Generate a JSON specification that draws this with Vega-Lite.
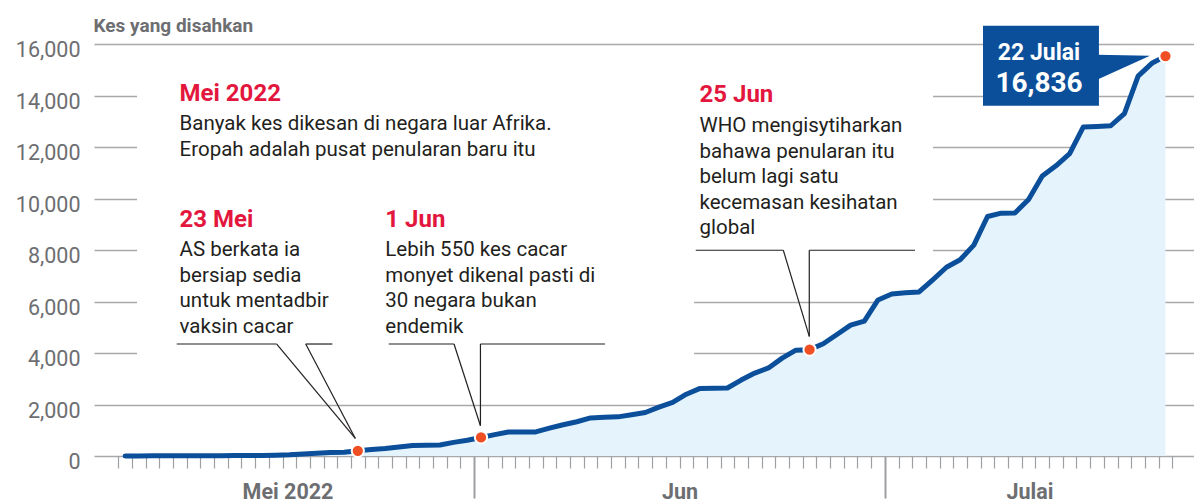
{
  "$schema": "https://vega.github.io/schema/vega-lite/v6.json",
  "width": 1100,
  "height": 412,
  "autosize": "none",
  "padding": {"left": 94, "top": 44, "right": 0, "bottom": 47},
  "background": "white",
  "config": {"view": {"stroke": null}},
  "datasets": {
    "cases": [
      {"date": "2022-05-06T12:00:00", "value": 0},
      {"date": "2022-05-07T12:00:00", "value": 3},
      {"date": "2022-05-08T12:00:00", "value": 5},
      {"date": "2022-05-09T12:00:00", "value": 5},
      {"date": "2022-05-10T12:00:00", "value": 6},
      {"date": "2022-05-11T12:00:00", "value": 8},
      {"date": "2022-05-12T12:00:00", "value": 10},
      {"date": "2022-05-13T12:00:00", "value": 12},
      {"date": "2022-05-14T12:00:00", "value": 15},
      {"date": "2022-05-15T12:00:00", "value": 18},
      {"date": "2022-05-16T12:00:00", "value": 22},
      {"date": "2022-05-17T12:00:00", "value": 30},
      {"date": "2022-05-18T12:00:00", "value": 45},
      {"date": "2022-05-19T12:00:00", "value": 80},
      {"date": "2022-05-20T12:00:00", "value": 110},
      {"date": "2022-05-21T12:00:00", "value": 135},
      {"date": "2022-05-22T12:00:00", "value": 150},
      {"date": "2022-05-23T12:00:00", "value": 200, "ev": true},
      {"date": "2022-05-24T12:00:00", "value": 250},
      {"date": "2022-05-25T12:00:00", "value": 290},
      {"date": "2022-05-26T12:00:00", "value": 350},
      {"date": "2022-05-27T12:00:00", "value": 405},
      {"date": "2022-05-28T12:00:00", "value": 415},
      {"date": "2022-05-29T12:00:00", "value": 427},
      {"date": "2022-05-30T12:00:00", "value": 530},
      {"date": "2022-05-31T12:00:00", "value": 610},
      {"date": "2022-06-01T12:00:00", "value": 720, "ev": true},
      {"date": "2022-06-02T12:00:00", "value": 830},
      {"date": "2022-06-03T12:00:00", "value": 930},
      {"date": "2022-06-04T12:00:00", "value": 935},
      {"date": "2022-06-05T12:00:00", "value": 935},
      {"date": "2022-06-06T12:00:00", "value": 1080},
      {"date": "2022-06-07T12:00:00", "value": 1215},
      {"date": "2022-06-08T12:00:00", "value": 1330},
      {"date": "2022-06-09T12:00:00", "value": 1480},
      {"date": "2022-06-10T12:00:00", "value": 1505},
      {"date": "2022-06-11T12:00:00", "value": 1520},
      {"date": "2022-06-12T12:00:00", "value": 1600},
      {"date": "2022-06-13T12:00:00", "value": 1690},
      {"date": "2022-06-14T12:00:00", "value": 1900},
      {"date": "2022-06-15T12:00:00", "value": 2080},
      {"date": "2022-06-16T12:00:00", "value": 2400},
      {"date": "2022-06-17T12:00:00", "value": 2625},
      {"date": "2022-06-18T12:00:00", "value": 2635},
      {"date": "2022-06-19T12:00:00", "value": 2640},
      {"date": "2022-06-20T12:00:00", "value": 2950},
      {"date": "2022-06-21T12:00:00", "value": 3220},
      {"date": "2022-06-22T12:00:00", "value": 3420},
      {"date": "2022-06-23T12:00:00", "value": 3800},
      {"date": "2022-06-24T12:00:00", "value": 4110},
      {"date": "2022-06-25T12:00:00", "value": 4130, "ev": true},
      {"date": "2022-06-26T12:00:00", "value": 4360},
      {"date": "2022-06-27T12:00:00", "value": 4720},
      {"date": "2022-06-28T12:00:00", "value": 5080},
      {"date": "2022-06-29T12:00:00", "value": 5240},
      {"date": "2022-06-30T12:00:00", "value": 6060},
      {"date": "2022-07-01T12:00:00", "value": 6290},
      {"date": "2022-07-02T12:00:00", "value": 6340},
      {"date": "2022-07-03T12:00:00", "value": 6370},
      {"date": "2022-07-04T12:00:00", "value": 6840},
      {"date": "2022-07-05T12:00:00", "value": 7330},
      {"date": "2022-07-06T12:00:00", "value": 7620},
      {"date": "2022-07-07T12:00:00", "value": 8190},
      {"date": "2022-07-08T12:00:00", "value": 9300},
      {"date": "2022-07-09T12:00:00", "value": 9430},
      {"date": "2022-07-10T12:00:00", "value": 9440},
      {"date": "2022-07-11T12:00:00", "value": 9960},
      {"date": "2022-07-12T12:00:00", "value": 10870},
      {"date": "2022-07-13T12:00:00", "value": 11270},
      {"date": "2022-07-14T12:00:00", "value": 11740},
      {"date": "2022-07-15T12:00:00", "value": 12780},
      {"date": "2022-07-16T12:00:00", "value": 12800},
      {"date": "2022-07-17T12:00:00", "value": 12825},
      {"date": "2022-07-18T12:00:00", "value": 13300},
      {"date": "2022-07-19T12:00:00", "value": 14750},
      {"date": "2022-07-20T12:00:00", "value": 15250},
      {"date": "2022-07-21T12:00:00", "value": 15530, "ev": true}
    ],
    "masks": [
      {"x1": "2022-05-07T09:00:00", "x2": "2022-07-04T12:30:00", "y1": 7700, "y2": 15000},
      {"x1": "2022-05-07T09:00:00", "x2": "2022-06-17T01:30:00", "y1": 3000, "y2": 7700}
    ],
    "callouts": [
      {"x1": "2022-05-10T06:30:00", "y1": 4349, "x2": "2022-05-17T13:50:00", "y2": 4349},
      {"x1": "2022-05-17T13:50:00", "y1": 4349, "x2": "2022-05-23T07:40:00", "y2": 683},
      {"x1": "2022-05-19T16:40:00", "y1": 4349, "x2": "2022-05-23T07:40:00", "y2": 683},
      {"x1": "2022-05-19T16:40:00", "y1": 4349, "x2": "2022-05-21T15:20:00", "y2": 4349},
      {"x1": "2022-05-25T18:10:00", "y1": 4349, "x2": "2022-05-30T12:40:00", "y2": 4349},
      {"x1": "2022-05-30T12:40:00", "y1": 4349, "x2": "2022-06-01T11:00:00", "y2": 1177},
      {"x1": "2022-06-01T11:00:00", "y1": 4349, "x2": "2022-06-01T11:00:00", "y2": 1177},
      {"x1": "2022-06-01T11:00:00", "y1": 4349, "x2": "2022-06-10T13:30:00", "y2": 4349},
      {"x1": "2022-06-17T04:30:00", "y1": 7990, "x2": "2022-06-23T14:00:00", "y2": 7990},
      {"x1": "2022-06-23T14:00:00", "y1": 7990, "x2": "2022-06-25T11:30:00", "y2": 4645},
      {"x1": "2022-06-25T11:30:00", "y1": 7990, "x2": "2022-06-25T11:30:00", "y2": 4645},
      {"x1": "2022-06-25T11:30:00", "y1": 7990, "x2": "2022-07-03T04:50:00", "y2": 7990}
    ],
    "notes": [
      {"date": "2022-05-10T11:30:00", "tval": 13771, "title": "Mei 2022", "bval": 12645, "body": "Banyak kes dikesan di negara luar Afrika.\nEropah adalah pusat penularan baru itu"},
      {"date": "2022-05-10T11:30:00", "tval": 8878, "title": "23 Mei", "bval": 7751, "body": "AS berkata ia\nbersiap sedia\nuntuk mentadbir\nvaksin cacar"},
      {"date": "2022-05-25T12:15:00", "tval": 8878, "title": "1 Jun", "bval": 7751, "body": "Lebih 550 kes cacar\nmonyet dikenal pasti di\n30 negara bukan\nendemik"},
      {"date": "2022-06-17T11:00:00", "tval": 13732, "title": "25 Jun", "bval": 12567, "body": "WHO mengisytiharkan\nbahawa penularan itu\nbelum lagi satu\nkecemasan kesihatan\nglobal"}
    ],
    "box": [
      {"x1": "2022-07-08T04:05:00", "x2": "2022-07-16T15:20:00", "y1": 13604, "y2": 16711, "xc": "2022-07-12T06:15:00", "label1": "22 Julai", "v1": 15398, "label2": "16,836", "v2": 14155}
    ],
    "pointer": [
      {"date": "2022-07-16T12:00:00", "top": 15585, "bot": 14614},
      {"date": "2022-07-20T08:50:00", "top": 15546, "bot": 15546}
    ]
  },
  "layer": [
    {
      "data": {"name": "masks"},
      "mark": {"type": "rect", "fill": "white"},
      "encoding": {
        "x": {
          "field": "x1", "type": "temporal",
          "scale": {"domain": [{"year": 2022, "month": 5, "date": 4, "hours": 5, "minutes": 30}, {"year": 2022, "month": 7, "date": 23, "hours": 14}], "nice": false},
          "axis": {
            "title": null,
            "tickCount": 500,
            "values": [
              {"year": 2022, "month": 5, "date": 6}, {"year": 2022, "month": 5, "date": 7}, {"year": 2022, "month": 5, "date": 8}, {"year": 2022, "month": 5, "date": 9}, {"year": 2022, "month": 5, "date": 10},
              {"year": 2022, "month": 5, "date": 11}, {"year": 2022, "month": 5, "date": 12}, {"year": 2022, "month": 5, "date": 13}, {"year": 2022, "month": 5, "date": 14}, {"year": 2022, "month": 5, "date": 15},
              {"year": 2022, "month": 5, "date": 16}, {"year": 2022, "month": 5, "date": 17}, {"year": 2022, "month": 5, "date": 18}, {"year": 2022, "month": 5, "date": 19}, {"year": 2022, "month": 5, "date": 20},
              {"year": 2022, "month": 5, "date": 21}, {"year": 2022, "month": 5, "date": 22}, {"year": 2022, "month": 5, "date": 23}, {"year": 2022, "month": 5, "date": 24}, {"year": 2022, "month": 5, "date": 25},
              {"year": 2022, "month": 5, "date": 26}, {"year": 2022, "month": 5, "date": 27}, {"year": 2022, "month": 5, "date": 28}, {"year": 2022, "month": 5, "date": 29}, {"year": 2022, "month": 5, "date": 30},
              {"year": 2022, "month": 5, "date": 31},
              {"year": 2022, "month": 6, "date": 1}, {"year": 2022, "month": 6, "date": 2}, {"year": 2022, "month": 6, "date": 3}, {"year": 2022, "month": 6, "date": 4}, {"year": 2022, "month": 6, "date": 5},
              {"year": 2022, "month": 6, "date": 6}, {"year": 2022, "month": 6, "date": 7}, {"year": 2022, "month": 6, "date": 8}, {"year": 2022, "month": 6, "date": 9}, {"year": 2022, "month": 6, "date": 10},
              {"year": 2022, "month": 6, "date": 11}, {"year": 2022, "month": 6, "date": 12}, {"year": 2022, "month": 6, "date": 13}, {"year": 2022, "month": 6, "date": 14}, {"year": 2022, "month": 6, "date": 15},
              {"year": 2022, "month": 6, "date": 16}, {"year": 2022, "month": 6, "date": 17}, {"year": 2022, "month": 6, "date": 18}, {"year": 2022, "month": 6, "date": 19}, {"year": 2022, "month": 6, "date": 20},
              {"year": 2022, "month": 6, "date": 21}, {"year": 2022, "month": 6, "date": 22}, {"year": 2022, "month": 6, "date": 23}, {"year": 2022, "month": 6, "date": 24}, {"year": 2022, "month": 6, "date": 25},
              {"year": 2022, "month": 6, "date": 26}, {"year": 2022, "month": 6, "date": 27}, {"year": 2022, "month": 6, "date": 28}, {"year": 2022, "month": 6, "date": 29}, {"year": 2022, "month": 6, "date": 30},
              {"year": 2022, "month": 7, "date": 1}, {"year": 2022, "month": 7, "date": 2}, {"year": 2022, "month": 7, "date": 3}, {"year": 2022, "month": 7, "date": 4}, {"year": 2022, "month": 7, "date": 5},
              {"year": 2022, "month": 7, "date": 6}, {"year": 2022, "month": 7, "date": 7}, {"year": 2022, "month": 7, "date": 8}, {"year": 2022, "month": 7, "date": 9}, {"year": 2022, "month": 7, "date": 10},
              {"year": 2022, "month": 7, "date": 11}, {"year": 2022, "month": 7, "date": 12}, {"year": 2022, "month": 7, "date": 13}, {"year": 2022, "month": 7, "date": 14}, {"year": 2022, "month": 7, "date": 15},
              {"year": 2022, "month": 7, "date": 16}, {"year": 2022, "month": 7, "date": 17}, {"year": 2022, "month": 7, "date": 18}, {"year": 2022, "month": 7, "date": 19}, {"year": 2022, "month": 7, "date": 20},
              {"year": 2022, "month": 7, "date": 21}, {"year": 2022, "month": 7, "date": 22}
            ],
            "domain": false,
            "grid": false,
            "ticks": true,
            "tickColor": "#9d9fa2",
            "tickSize": {"condition": {"test": "date(datum.value) == 1", "value": 42}, "value": 12},
            "tickWidth": {"condition": {"test": "date(datum.value) == 1", "value": 2}, "value": 1.2},
            "labelExpr": "month(datum.value) == 4 && date(datum.value) == 18 ? 'Mei 2022' : (month(datum.value) == 5 && date(datum.value) == 16 ? 'Jun' : (month(datum.value) == 6 && date(datum.value) == 12 ? 'Julai' : ''))",
            "labelOffset": {"condition": [{"test": "month(datum.value) == 4", "value": 5}, {"test": "month(datum.value) == 6", "value": -6}], "value": 0},
            "labelFont": "Roboto, sans-serif",
            "labelFontSize": 21.5,
            "labelFontWeight": "bold",
            "labelColor": "#6d6e71",
            "labelPadding": 30,
            "labelBaseline": "alphabetic",
            "labelOverlap": false,
            "labelBound": false,
            "labelFlush": false
          }
        },
        "x2": {"field": "x2"},
        "y": {
          "field": "y1", "type": "quantitative",
          "scale": {"domain": [0, 16000], "nice": false, "zero": true},
          "axis": {
            "values": [0, 2000, 4000, 6000, 8000, 10000, 12000, 14000, 16000],
            "format": ",d",
            "grid": true,
            "gridColor": "#a7a9ac",
            "gridWidth": 1.5,
            "domain": false,
            "ticks": false,
            "labelFont": "Roboto, sans-serif",
            "labelFontSize": 21.5,
            "labelColor": "#6d6e71",
            "labelPadding": 14,
            "labelBaseline": "alphabetic",
            "labelOffset": 12.5,
            "labelFlush": false,
            "labelBound": false,
            "title": "Kes yang disahkan",
            "titleAngle": 0,
            "titleX": -1,
            "titleY": -13,
            "titleAlign": "left",
            "titleBaseline": "alphabetic",
            "titleFont": "Roboto, sans-serif",
            "titleFontSize": 19,
            "titleFontWeight": "bold",
            "titleColor": "#6d6e71"
          }
        },
        "y2": {"field": "y2"}
      }
    },
    {
      "data": {"name": "cases"},
      "mark": {"type": "area", "color": "#e5f4fc", "opacity": 1},
      "encoding": {
        "x": {"field": "date", "type": "temporal"},
        "y": {"field": "value", "type": "quantitative"}
      }
    },
    {
      "mark": {"type": "rule", "color": "#a7a9ac", "strokeWidth": 2},
      "encoding": {"y": {"datum": 0, "type": "quantitative"}}
    },
    {
      "data": {"name": "cases"},
      "mark": {"type": "line", "color": "#0b4f9b", "strokeWidth": 5, "strokeJoin": "round", "strokeCap": "round"},
      "encoding": {
        "x": {"field": "date", "type": "temporal"},
        "y": {"field": "value", "type": "quantitative"}
      }
    },
    {
      "data": {"name": "callouts"},
      "mark": {"type": "rule", "color": "#231f20", "strokeWidth": 1.2},
      "encoding": {
        "x": {"field": "x1", "type": "temporal"},
        "x2": {"field": "x2"},
        "y": {"field": "y1", "type": "quantitative"},
        "y2": {"field": "y2"}
      }
    },
    {
      "data": {"name": "cases"},
      "transform": [{"filter": "datum.ev === true"}],
      "mark": {"type": "circle", "size": 150, "color": "#f04e23", "opacity": 1, "stroke": "white", "strokeWidth": 2},
      "encoding": {
        "x": {"field": "date", "type": "temporal"},
        "y": {"field": "value", "type": "quantitative"}
      }
    },
    {
      "data": {"name": "box"},
      "mark": {"type": "rect", "color": "#0b4f9b"},
      "encoding": {
        "x": {"field": "x1", "type": "temporal"},
        "x2": {"field": "x2"},
        "y": {"field": "y1", "type": "quantitative"},
        "y2": {"field": "y2"}
      }
    },
    {
      "data": {"name": "pointer"},
      "mark": {"type": "area", "color": "#0b4f9b", "opacity": 1},
      "encoding": {
        "x": {"field": "date", "type": "temporal"},
        "y": {"field": "top", "type": "quantitative"},
        "y2": {"field": "bot"}
      }
    },
    {
      "data": {"name": "box"},
      "mark": {"type": "text", "align": "center", "baseline": "alphabetic", "font": "Roboto, sans-serif", "fontSize": 23, "fontWeight": "bold", "color": "white"},
      "encoding": {
        "x": {"field": "xc", "type": "temporal"},
        "y": {"field": "v1", "type": "quantitative"},
        "text": {"field": "label1"}
      }
    },
    {
      "data": {"name": "box"},
      "mark": {"type": "text", "align": "center", "baseline": "alphabetic", "font": "Roboto, sans-serif", "fontSize": 28, "fontWeight": "bold", "color": "white"},
      "encoding": {
        "x": {"field": "xc", "type": "temporal"},
        "y": {"field": "v2", "type": "quantitative"},
        "text": {"field": "label2"}
      }
    },
    {
      "data": {"name": "notes"},
      "mark": {"type": "text", "align": "left", "baseline": "alphabetic", "font": "Roboto, sans-serif", "fontSize": 24, "fontWeight": "bold", "color": "#e3173e"},
      "encoding": {
        "x": {"field": "date", "type": "temporal"},
        "y": {"field": "tval", "type": "quantitative"},
        "text": {"field": "title"}
      }
    },
    {
      "data": {"name": "notes"},
      "mark": {"type": "text", "align": "left", "baseline": "alphabetic", "lineBreak": "\n", "lineHeight": 25.5, "font": "Roboto, sans-serif", "fontSize": 20.5, "color": "#231f20"},
      "encoding": {
        "x": {"field": "date", "type": "temporal"},
        "y": {"field": "bval", "type": "quantitative"},
        "text": {"field": "body"}
      }
    }
  ]
}
